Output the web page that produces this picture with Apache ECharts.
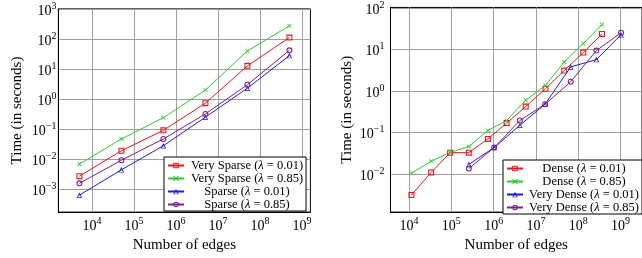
<!DOCTYPE html>
<html>
<head>
<meta charset="utf-8">
<script src="https://cdn.jsdelivr.net/npm/echarts@6/dist/echarts.min.js"></script>
<style>
html, body { margin: 0; padding: 0; background: #fff; }
#chart { width: 642px; height: 258px; }
</style>
</head>
<body>
<div id="chart"></div>
<script>
// left panel: sparse graphs
var sparseEdges = [5e3, 5e4, 5e5, 5e6, 5e7, 5e8];
var vsparse001 = [0.0027, 0.019, 0.091, 0.73, 12.8, 112];
var vsparse085 = [0.0068, 0.047, 0.24, 2.0, 40, 275];
var sparse001 = [0.00063, 0.0044, 0.028, 0.25, 2.3, 28];
var sparse085 = [0.00156, 0.0092, 0.047, 0.32, 3.0, 42];

// right panel: dense graphs
var denseEdges = [11400, 33300, 93800, 260000, 733000, 2030000, 5750000, 16800000, 46700000, 131500000, 365000000];
var dense001 = [0.0031, 0.0109, 0.0326, 0.0326, 0.070, 0.168, 0.42, 1.13, 3.1, 8.4, 23.6];
var dense085 = [0.0104, 0.0202, 0.033, 0.046, 0.112, 0.194, 0.60, 1.35, 5.0, 13.9, 40];
var vdenseEdges = [260000, 1030000, 4170000, 16500000, 66500000, 269000000, 1030000000];
var vdense001 = [0.017, 0.0433, 0.149, 0.48, 3.8, 5.7, 22.7];
var vdense085 = [0.0135, 0.0433, 0.194, 0.48, 1.67, 9.4, 25.3];

var FONT = 'Liberation Serif';
var RED = '#e8191c', GREEN = '#2ccc2c', BLUE = '#1a1af0', PURPLE = '#7f1f88';

// hollow marks (outline with a hole, so the line shows through like pgfplots)
var SQ = 'path://M0,0H10V10H0Z M1.8,1.8V8.2H8.2V1.8Z';
var XM = 'path://M0,1.3L1.3,0L5,3.7L8.7,0L10,1.3L6.3,5L10,8.7L8.7,10L5,6.3L1.3,10L0,8.7L3.7,5Z';
var TRI = 'path://M5,0L10,10H0Z M5,3.8L2,8.8H8Z';
var CIR = 'path://M5,0A5,5,0,1,1,5,10A5,5,0,1,1,5,0Z M5,1.8A3.2,3.2,0,1,0,5,8.2A3.2,3.2,0,1,0,5,1.8Z';

function lg(v) { return Math.log(v) / Math.LN10; }

// pgfplots style: data range enlarged by 10% on each side (log space)
function ext(arrs) {
  var lo = Infinity, hi = -Infinity;
  arrs.forEach(function(a) {
    a.forEach(function(v) { lo = Math.min(lo, lg(v)); hi = Math.max(hi, lg(v)); });
  });
  var pad = (hi - lo) * 0.1;
  return [lo - pad, hi + pad];
}

function powLabel(v) {
  var n = Math.round(v);
  if (Math.abs(v - n) > 1e-6) return '';
  return '{b|10}{s|' + (n < 0 ? '\u2212' + (-n) : n) + '}';
}

var richPow = {
  b: { fontSize: 14, fontFamily: FONT, color: '#000', padding: [4, 0, 0, 0] },
  s: { fontSize: 10, fontFamily: FONT, color: '#000', padding: [0, 0, 6, 0] }
};

function mkSeries(name, xs, ys, color, symbol, size, gi) {
  var pts = [];
  for (var i = 0; i < xs.length; i++) {
    pts.push([lg(xs[i]), lg(ys[i])]);
  }
  return {
    name: name,
    type: 'line',
    xAxisIndex: gi,
    yAxisIndex: gi,
    data: pts,
    symbol: symbol,
    symbolSize: size,
    lineStyle: { color: color, width: 1 },
    itemStyle: { color: color },
    animation: false
  };
}

function xAxisOf(gi, e, lblMargin) {
  return {
    type: 'value', gridIndex: gi, min: e[0], max: e[1],
    name: 'Number of edges', nameLocation: 'middle', nameGap: 19,
    nameTextStyle: { fontFamily: FONT, fontSize: 15, color: '#000' },
    axisLine: { show: true, onZero: false, lineStyle: { color: '#000', width: 1 } },
    axisTick: { show: false },
    axisLabel: { formatter: powLabel, rich: richPow, margin: lblMargin, showMinLabel: false, showMaxLabel: false },
    splitLine: { show: true, showMinLine: false, showMaxLine: false, lineStyle: { color: '#a0a0a0', width: 1 } }
  };
}

function yAxisOf(gi, e, lblMargin, nameGap) {
  return {
    type: 'value', gridIndex: gi, min: e[0], max: e[1],
    name: 'Time (in seconds)', nameLocation: 'middle', nameGap: nameGap,
    nameTextStyle: { fontFamily: FONT, fontSize: 15, color: '#000' },
    axisLine: { show: true, onZero: false, lineStyle: { color: '#000', width: 1 } },
    axisTick: { show: false },
    axisLabel: { formatter: powLabel, rich: richPow, margin: lblMargin },
    splitLine: { show: true, showMinLine: false, showMaxLine: false, lineStyle: { color: '#a0a0a0', width: 1 } }
  };
}

function legendFmt(name) {
  var k = name.indexOf('\u03bb');
  return '{t|' + name.slice(0, k) + '}{i|\u03bb}{t|' + name.slice(k + 1) + '}';
}

function legendOf(names, left, top, textW) {
  return {
    orient: 'vertical', left: left, top: top,
    data: names,
    selectedMode: false,
    itemWidth: 16, itemHeight: 7, itemGap: 0,
    padding: [2, 3, 0, 3],
    borderColor: '#000', borderWidth: 1, backgroundColor: '#fff',
    formatter: legendFmt,
    textStyle: {
      width: textW, fontFamily: FONT, fontSize: 12.5, color: '#000',
      rich: {
        t: { align: 'center', fontFamily: FONT, fontSize: 12.5, lineHeight: 14, color: '#000' },
        i: { align: 'center', fontFamily: FONT, fontSize: 12.5, lineHeight: 14, fontStyle: 'italic', color: '#000' }
      }
    }
  };
}

var ex0 = ext([sparseEdges]);
var ey0 = ext([vsparse001, vsparse085, sparse001, sparse085]);
var ex1 = ext([denseEdges, vdenseEdges]);
var ey1 = ext([dense001, dense085, vdense001, vdense085]);

var n0 = ['Very Sparse (\u03bb = 0.01)', 'Very Sparse (\u03bb = 0.85)', 'Sparse (\u03bb = 0.01)', 'Sparse (\u03bb = 0.85)'];
var n1 = ['Dense (\u03bb = 0.01)', 'Dense (\u03bb = 0.85)', 'Very Dense (\u03bb = 0.01)', 'Very Dense (\u03bb = 0.85)'];

var option = {
  backgroundColor: '#fff',
  textStyle: { fontFamily: FONT },
  grid: [
    { left: 58.4, top: 8.9, width: 252, height: 210.9, show: true, borderColor: '#000', borderWidth: 1 },
    { left: 390.5, top: 5.4, width: 255, height: 214.6, show: true, borderColor: '#000', borderWidth: 1 }
  ],
  xAxis: [xAxisOf(0, ex0, 3), xAxisOf(1, ex1, 3)],
  yAxis: [yAxisOf(0, ey0, 2, 34), yAxisOf(1, ey1, 6, 36)],
  legend: [legendOf(n0, 164, 157, 116), legendOf(n1, 503, 160, 112)],
  series: [
    mkSeries(n0[0], sparseEdges, vsparse001, RED, SQ, 6, 0),
    mkSeries(n0[1], sparseEdges, vsparse085, GREEN, XM, 4.5, 0),
    mkSeries(n0[2], sparseEdges, sparse001, BLUE, TRI, 5.5, 0),
    mkSeries(n0[3], sparseEdges, sparse085, PURPLE, CIR, 6, 0),
    mkSeries(n1[0], denseEdges, dense001, RED, SQ, 6, 1),
    mkSeries(n1[1], denseEdges, dense085, GREEN, XM, 4.5, 1),
    mkSeries(n1[2], vdenseEdges, vdense001, BLUE, TRI, 5.5, 1),
    mkSeries(n1[3], vdenseEdges, vdense085, PURPLE, CIR, 6, 1)
  ]
};

var chart = echarts.init(document.getElementById('chart'), null, { renderer: 'canvas' });
chart.setOption(option);
</script>
</body>
</html>
